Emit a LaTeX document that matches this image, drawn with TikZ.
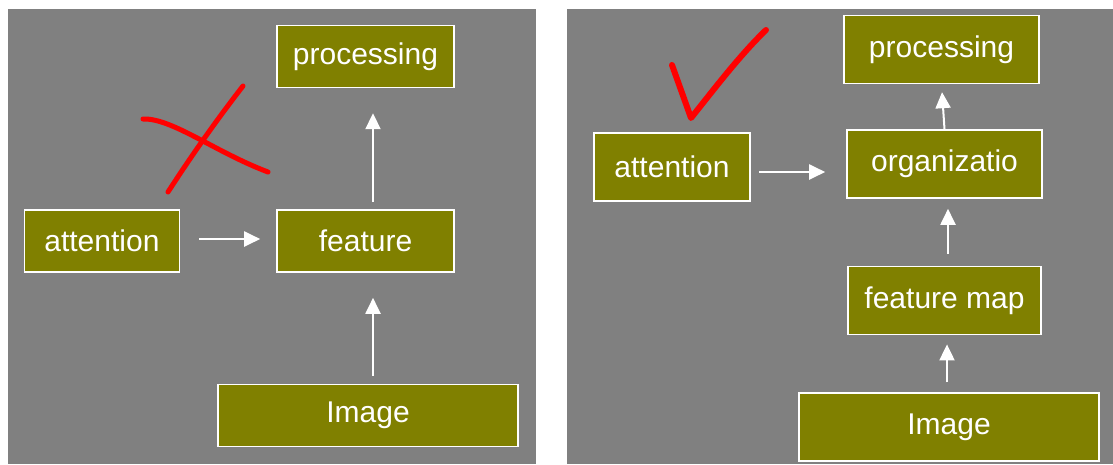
\documentclass[tikz,border=0pt]{standalone}
\usepackage{fontspec}
\setmainfont{Liberation Sans}
\usepackage{tikz}
\usetikzlibrary{arrows.meta, positioning, calc}
\definecolor{slide_gray}{HTML}{808080}
\definecolor{slide_olive}{HTML}{808000}
\tikzset{
  panel/.style={fill=slide_gray,draw=none},
  block/.style={rectangle,draw=white,line width=1.6pt,fill=slide_olive,text=white,
    inner sep=0pt,font=\fontsize{30}{36}\selectfont},
  blockl/.style={block,minimum height=62pt},
  blockr/.style={block,minimum height=68pt},
  flow/.style={draw=white,line width=2pt,-{Triangle[length=16pt,width=15pt]}},
  pen/.style={draw=red,line width=5pt,line cap=round,line join=round},
}
\begin{document}
\begin{tikzpicture}[x=1pt,y=-1pt]
	    \useasboundingbox (0,0) rectangle (1113,464);
	    \fill[panel] (8,9) rectangle (536,464);
	    \fill[panel] (567,9) rectangle (1113,464);
	    % left: attention straight into the features
	    \node[blockl,minimum width=177pt] (featL) at (365.5,241) {feature};
	    \node[blockl,minimum width=177pt,above=121pt of featL] (procL) {processing};
	    \node[blockl,minimum width=155pt,left=96pt of featL] (attL) {attention};
	    \node[blockl,minimum width=300pt,below=111pt of featL,xshift=2.5pt] (imgL) {Image};
	    \draw[flow,shorten <=19pt,shorten >=16pt] (attL.east |- 0,239) -- (featL.west |- 0,239);
	    \draw[flow,shorten <=7pt,shorten >=25pt] (373,0 |- featL.north) -- (373,0 |- procL.south);
	    \draw[flow,shorten <=8pt,shorten >=25pt] (373,0 |- imgL.north) -- (373,0 |- featL.south);
	    % right: attention on the organization
	    \node[blockr,minimum width=195pt] (orgR) at (944.5,164) {organizatio};
	    \node[blockr,minimum width=195pt,above=45pt of orgR,xshift=-3pt] (procR) {processing};
	    \node[blockr,minimum width=156pt] (attR) at (672,167) {attention};
	    \node[blockr,minimum width=193pt,below=67pt of orgR] (fmapR) {feature map};
	    \node[blockr,minimum width=300pt,below=57pt of fmapR,xshift=4.5pt] (imgR) {Image};
	    \draw[flow,shorten <=8pt,shorten >=21pt] (attR.east |- 0,172) -- (orgR.west |- 0,172);
	    \draw[flow,shorten <=0pt,shorten >=8pt] (orgR.north) -- (procR.south);
	    \draw[flow,shorten <=12pt,shorten >=10pt] (948,0 |- fmapR.north) -- (948,0 |- orgR.south);
	    \draw[flow,shorten <=10pt,shorten >=9pt] (947,0 |- imgR.north) -- (947,0 |- fmapR.south);
	    % hand marks
	    \draw[pen] (143,119) .. controls (172,118) and (215,152) .. (268,172);
	    \draw[pen] (243,86) .. controls (215,122) and (190,158) .. (168,192);
	    \draw[pen,line width=6pt] (672,65) -- (691,118) .. controls (715,88) and (740,55) .. (766,30);
	\end{tikzpicture}
\end{document}
